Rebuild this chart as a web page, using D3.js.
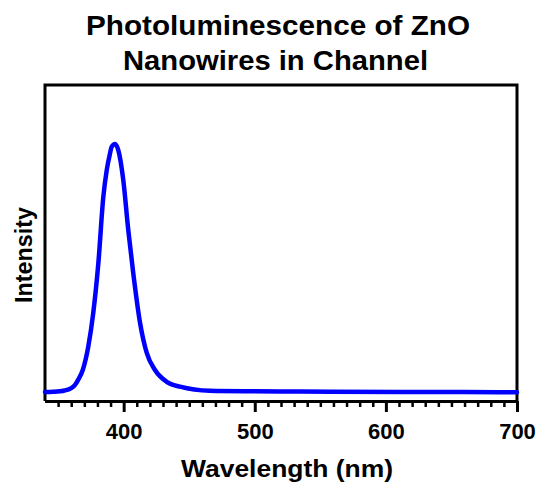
<!DOCTYPE html>
<html>
<head>
<meta charset="utf-8">
<script src="https://cdn.jsdelivr.net/npm/d3@7"></script>
<style>
  html, body { margin: 0; padding: 0; background: #fff; }
  svg { display: block; }
  text { font-family: "Liberation Sans", Arial, Helvetica, sans-serif; font-weight: bold; fill: #000; }
</style>
</head>
<body>
<svg id="chart" width="540" height="484"></svg>
<script>
const titleLines = ["Photoluminescence of ZnO", "Nanowires in Channel"];
const xLabel = "Wavelength (nm)";
const yLabel = "Intensity";
const xTicks = [400, 500, 600, 700];
const wavelength = [340, 346, 355, 360, 362.9, 365.5, 368.8, 373.0, 376.8, 380.7, 384.5, 387.1, 389.5, 390.9, 393.4, 395.9, 399.7, 403.5, 407.3, 412.5, 417.6, 423.9, 432.8, 443, 465.8, 500, 534.5, 610.8, 660, 700];
const intensity =  [0.035, 0.036, 0.041, 0.050, 0.0625, 0.085, 0.121, 0.212, 0.344, 0.539, 0.798, 0.902, 0.965, 0.993, 1.004, 0.980, 0.863, 0.668, 0.500, 0.305, 0.1875, 0.121, 0.075, 0.056, 0.040, 0.038, 0.037, 0.035, 0.035, 0.034];

const svg = d3.select("#chart");
const mLeft = 45, mRight = 517, mTop = 85, mBottom = 401;

const x = d3.scaleLinear().domain([340, 700]).range([mLeft, mRight]);
const y = d3.scaleLinear().domain([0, 1.234]).range([mBottom, mTop]);

// title
svg.append("text").attr("x", 278).attr("y", 35).attr("text-anchor", "middle")
  .attr("textLength", 384).attr("lengthAdjust", "spacingAndGlyphs")
  .style("font-size", "28px").text(titleLines[0]);
svg.append("text").attr("x", 275.5).attr("y", 70).attr("text-anchor", "middle")
  .attr("textLength", 305).attr("lengthAdjust", "spacingAndGlyphs")
  .style("font-size", "28px").text(titleLines[1]);

// frame (top, left, right)
svg.append("path")
  .attr("d", `M${mLeft},${mBottom} V${mTop} H${mRight} V${mBottom}`)
  .attr("fill", "none").attr("stroke", "#000").attr("stroke-width", 3);

// line
const data = wavelength.map((w, i) => ({w, v: intensity[i]}));
svg.append("path").datum(data)
  .attr("fill", "none").attr("stroke", "#0000ff").attr("stroke-width", 4.5)
  .attr("stroke-linejoin", "round").attr("stroke-linecap", "round")
  .attr("d", d3.line().x(d => x(d.w)).y(d => y(d.v)).curve(d3.curveMonotoneX));

// x axis minor ticks
const minor = d3.range(350, 701, 10).filter(v => v % 100 !== 0);
const minorAxis = d3.axisBottom(x).tickValues(minor).tickSize(6).tickFormat("");
const gMinor = svg.append("g").attr("transform", `translate(0,${mBottom})`).call(minorAxis);
gMinor.select(".domain").remove();
gMinor.selectAll(".tick line").attr("stroke", "#000").attr("stroke-width", 2.5);

const majorAxis = d3.axisBottom(x).tickValues(xTicks).tickSize(11).tickPadding(11).tickFormat(d3.format("d"));
const gMajor = svg.append("g").attr("transform", `translate(0,${mBottom})`).call(majorAxis);
gMajor.select(".domain").attr("d", `M${mLeft},0.5H${mRight}`).attr("stroke", "#000").attr("stroke-width", 3);
gMajor.selectAll(".tick line").attr("stroke", "#000").attr("stroke-width", 3);
gMajor.selectAll(".tick text").style("font-size", "22px").style("font-family", "'Liberation Sans', Arial, sans-serif").style("font-weight", "bold").attr("fill", "#000");

// axis labels
svg.append("text").attr("x", 287).attr("y", 477).attr("text-anchor", "middle")
  .attr("textLength", 212).attr("lengthAdjust", "spacingAndGlyphs")
  .style("font-size", "24px").text(xLabel);
svg.append("text").attr("transform", `translate(32,255) rotate(-90)`).attr("text-anchor", "middle")
  .attr("textLength", 96).attr("lengthAdjust", "spacingAndGlyphs")
  .style("font-size", "23px").text(yLabel);
</script>
</body>
</html>
